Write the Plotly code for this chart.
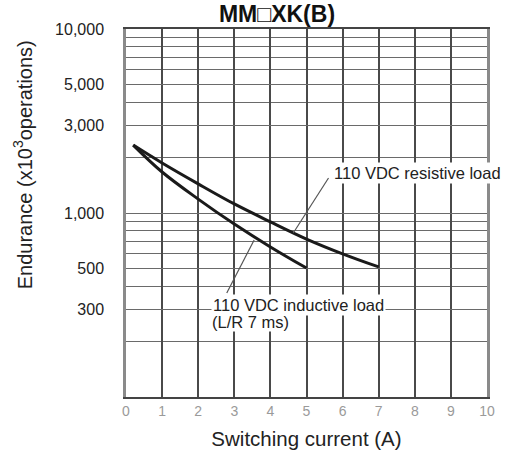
import plotly.graph_objects as go

# Data
res_x = [0.2, 1, 2, 3, 4, 5, 6, 7]
res_y = [2340, 1870, 1440, 1120, 895, 722, 600, 509]
ind_x = [0.2, 1, 2, 3, 4, 5]
ind_y = [2340, 1670, 1190, 871, 654, 502]

x_ticks = list(range(0, 11))
y_tick_vals = [300, 500, 1000, 3000, 5000, 10000]
y_tick_text = ["300", "500", "1,000", "3,000", "5,000", "10,000"]
y_minor = [v * m for m in (100, 1000) for v in range(1, 10)]

fig = go.Figure()
fig.add_trace(go.Scatter(x=res_x, y=res_y, mode="lines",
                         line=dict(color="#1a1a1a", width=3, shape="spline", smoothing=1.0),
                         showlegend=False, hoverinfo="skip"))
fig.add_trace(go.Scatter(x=ind_x, y=ind_y, mode="lines",
                         line=dict(color="#1a1a1a", width=3, shape="spline", smoothing=1.0),
                         showlegend=False, hoverinfo="skip"))

font_family = "Liberation Sans, Arial, sans-serif"

fig.update_layout(
    width=506, height=459,
    margin=dict(l=126, r=11, t=29, b=62),
    paper_bgcolor="white", plot_bgcolor="white",
    font=dict(family=font_family, color="#222"),
    title=dict(text="<b>MM\u25a1XK(B)</b>", x=277/506, xanchor="center", y=1-14/459, yanchor="middle",
               font=dict(size=23, color="#111")),
    xaxis=dict(range=[0, 10], tickvals=x_ticks, ticktext=[str(v) for v in x_ticks],
               showgrid=True, gridcolor="#4a4a4a", gridwidth=1.5, zeroline=False,
               showline=True, linecolor="#444", linewidth=1.5, mirror=True,
               tickfont=dict(size=14, color="#9a9a9a"), ticks="",
               title=dict(text="Switching current (A)", font=dict(size=20.5, color="#222"), standoff=14)),
    yaxis=dict(type="log", range=[2, 4], tickvals=y_tick_vals, ticktext=y_tick_text,
               showgrid=True, gridcolor="#6a6a6a", gridwidth=1.3, zeroline=False,
               showline=True, linecolor="#8a8a8a", linewidth=2.5, mirror=True,
               tickfont=dict(size=16, color="#222"), ticks="outside", ticklen=16, tickcolor="rgba(0,0,0,0)",
               minor=dict(tickvals=y_minor, showgrid=True, gridcolor="#6a6a6a", gridwidth=1.3,
                          ticks="", ticklen=0)),
)

# y-axis title (placed as rotated text, higher than the plot centre as in the reference)
fig.add_annotation(x=(20 - 126) / 369, y=(397 - 165) / 368, xref="paper", yref="paper",
                   text="Endurance (x10<sup>3</sup>operations)", textangle=-90, showarrow=False,
                   xanchor="center", yanchor="middle", font=dict(size=20, color="#222"))

# leader lines (paper coordinates of the plot area)
fig.add_shape(type="line", xref="paper", yref="paper", x0=0.561, y0=0.595, x1=0.4634, y1=0.4457,
              line=dict(color="#555", width=1.2))
fig.add_shape(type="line", xref="paper", yref="paper", x0=0.2791, y0=0.2826, x1=0.355, y1=0.4266,
              line=dict(color="#555", width=1.2))

# labels
fig.add_annotation(x=5.72, y=3.217, xref="x", yref="y", text="110 VDC resistive load",
                   showarrow=False, xanchor="left", yanchor="middle", bgcolor="white",
                   font=dict(size=16.5, color="#222"), borderpad=1)
fig.add_annotation(x=2.36, y=4 - (305 - 29) / 184, xref="x", yref="y", text="110 VDC inductive load",
                   showarrow=False, xanchor="left", yanchor="middle", bgcolor="white",
                   font=dict(size=16.5, color="#222"), borderpad=1)
fig.add_annotation(x=2.36, y=4 - (322 - 29) / 184, xref="x", yref="y", text="(L/R 7 ms)",
                   showarrow=False, xanchor="left", yanchor="middle", bgcolor="white",
                   font=dict(size=16.5, color="#222"), borderpad=0)

fig.write_html("out.html", config={"displayModeBar": False},
               post_script="document.body.style.margin='0px';")
